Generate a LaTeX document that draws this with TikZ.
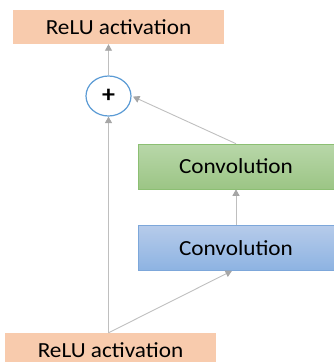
\documentclass[tikz,border=0pt]{standalone}
\usepackage{fontspec}
\setmainfont{Carlito}[FakeStretch=1.08]
\usetikzlibrary{arrows.meta,shapes.geometric}
\definecolor{relu}{HTML}{F8CBAD}
\definecolor{greentop}{HTML}{B8D7A9}
\definecolor{greenbot}{HTML}{9CC585}
\definecolor{greenline}{HTML}{8CBF73}
\definecolor{bluetop}{HTML}{B6CBEA}
\definecolor{bluebot}{HTML}{8DB3E2}
\definecolor{blueline}{HTML}{7DA7DA}
\definecolor{plusline}{HTML}{5B9BD5}
\definecolor{conn}{HTML}{BFBFBF}
\definecolor{headc}{HTML}{A6A6A6}
\tikzset{
  relubox/.style={fill=relu, minimum width=211pt, minimum height=34pt, inner sep=0pt, font=\fontsize{21.5}{24}\selectfont},
  convbox/.style={minimum width=196pt, minimum height=45pt, inner sep=0pt, font=\fontsize{21.5}{24}\selectfont, line width=0.6pt},
  greenbox/.style={convbox, draw=greenline, top color=greentop, bottom color=greenbot},
  bluebox/.style={convbox, draw=blueline, top color=bluetop, bottom color=bluebot},
  plusnode/.style={ellipse, draw=plusline, fill=white, line width=1.2pt, minimum width=45pt, minimum height=40pt, inner sep=0pt, font=\fontsize{24}{26}\bfseries},
  conn/.style={draw=conn, line width=0.9pt, -{Triangle[width=7pt,length=6.5pt,fill=headc,color=headc]}}
}
\begin{document}
\begin{tikzpicture}[x=1pt,y=-1pt]
\useasboundingbox (0,0) rectangle (334,362);
\clip (0,0) rectangle (334,362);
\node[relubox] (top) at (118.5,27) {ReLU activation};
\node[plusnode] (plus) at (108.5,96) {+};
\node[greenbox] (green) at (236,166.5) {Convolution};
\node[bluebox] (blue) at (236,248) {Convolution};
\node[relubox] (bot) at (110.5,350) {ReLU activation};
\coordinate (split) at (plus.south |- bot.north);
\draw[conn] (plus.north) -- (plus.north |- top.south);
\draw[conn] (split) -- (plus.south);
\draw[conn] (split) -- ([xshift=-4pt]blue.south);
\draw[conn] (blue.north) -- (green.south);
\draw[conn, shorten >=1.5pt] (green.north) -- (plus.east);
\end{tikzpicture}
\end{document}
